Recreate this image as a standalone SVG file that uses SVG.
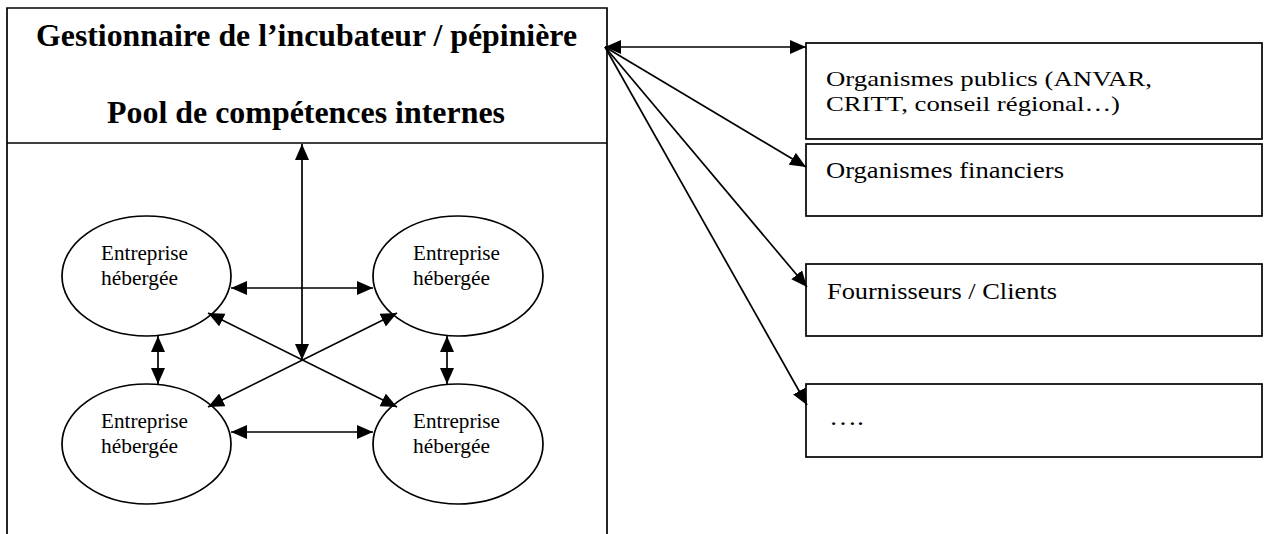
<svg xmlns="http://www.w3.org/2000/svg" width="1267" height="534" viewBox="0 0 1267 534">
<style>
.box{fill:none;stroke:#000;stroke-width:1.7}
.ell{fill:#fff;stroke:#000;stroke-width:1.7}
.con{fill:none;stroke:#000;stroke-width:1.7}
.title{font-family:"Liberation Serif","Times New Roman",serif;font-weight:bold;font-size:31px;fill:#000}
.lbl{font-family:"Liberation Serif","Times New Roman",serif;font-size:21px;fill:#000}
.org{font-family:"Liberation Serif","Times New Roman",serif;font-size:24px;fill:#000}
.org2{font-family:"Liberation Serif","Times New Roman",serif;font-size:22px;fill:#000}
</style>
<defs>
<marker id="ah" markerUnits="userSpaceOnUse" markerWidth="18" markerHeight="16" refX="16" refY="7" orient="auto-start-reverse" viewBox="0 0 18 16">
<path d="M0,0 L16,7 L0,14 z" fill="#000"/>
</marker>
</defs>
<rect width="1267" height="534" fill="#fff"/>
<g id="incubateur">
<path class="box" d="M7,534 V8 H607 V534"/>
<line class="box" x1="7" y1="143" x2="607" y2="143"/>
<text class="title" x="306.5" y="46" text-anchor="middle" textLength="541" lengthAdjust="spacingAndGlyphs">Gestionnaire de l’incubateur / pépinière</text>
<text class="title" x="306" y="123" text-anchor="middle" textLength="398" lengthAdjust="spacingAndGlyphs">Pool de compétences internes</text>
</g>
<g id="entreprise-hg">
<ellipse class="ell" cx="146.5" cy="276" rx="84.5" ry="60"/>
<text class="lbl" x="101" y="260" textLength="87" lengthAdjust="spacingAndGlyphs">Entreprise</text>
<text class="lbl" x="101" y="285" textLength="77" lengthAdjust="spacingAndGlyphs">hébergée</text>
</g>
<g id="entreprise-hd">
<ellipse class="ell" cx="458" cy="276" rx="85" ry="60"/>
<text class="lbl" x="413" y="260" textLength="87" lengthAdjust="spacingAndGlyphs">Entreprise</text>
<text class="lbl" x="413" y="285" textLength="77" lengthAdjust="spacingAndGlyphs">hébergée</text>
</g>
<g id="entreprise-bg">
<ellipse class="ell" cx="146.5" cy="444" rx="84.5" ry="60"/>
<text class="lbl" x="101" y="428" textLength="87" lengthAdjust="spacingAndGlyphs">Entreprise</text>
<text class="lbl" x="101" y="453" textLength="77" lengthAdjust="spacingAndGlyphs">hébergée</text>
</g>
<g id="entreprise-bd">
<ellipse class="ell" cx="458" cy="444" rx="85" ry="60"/>
<text class="lbl" x="413" y="428" textLength="87" lengthAdjust="spacingAndGlyphs">Entreprise</text>
<text class="lbl" x="413" y="453" textLength="77" lengthAdjust="spacingAndGlyphs">hébergée</text>
</g>
<g id="org-publics">
<rect class="box" x="806" y="43" width="456" height="96"/>
<text class="org2" x="826" y="86" textLength="326" lengthAdjust="spacingAndGlyphs">Organismes publics (ANVAR,</text>
<text class="org2" x="826" y="111" textLength="294" lengthAdjust="spacingAndGlyphs">CRITT, conseil régional…)</text>
</g>
<g id="org-financiers">
<rect class="box" x="806" y="144" width="456" height="72"/>
<text class="org" x="826" y="178" textLength="238" lengthAdjust="spacingAndGlyphs">Organismes financiers</text>
</g>
<g id="fournisseurs">
<rect class="box" x="806" y="264" width="456" height="72"/>
<text class="org" x="827" y="299" textLength="230" lengthAdjust="spacingAndGlyphs">Fournisseurs / Clients</text>
</g>
<g id="autres">
<rect class="box" x="806" y="384" width="456" height="73"/>
<text class="org" x="829" y="425" textLength="35" lengthAdjust="spacingAndGlyphs">….</text>
</g>
<g id="connectors">
<line class="con" x1="302" y1="144" x2="302" y2="360" marker-start="url(#ah)" marker-end="url(#ah)"/>
<line class="con" x1="231" y1="288" x2="373" y2="288" marker-start="url(#ah)" marker-end="url(#ah)"/>
<line class="con" x1="231" y1="432" x2="373" y2="432" marker-start="url(#ah)" marker-end="url(#ah)"/>
<line class="con" x1="158" y1="336" x2="158" y2="384" marker-start="url(#ah)" marker-end="url(#ah)"/>
<line class="con" x1="447" y1="336" x2="447" y2="384" marker-start="url(#ah)" marker-end="url(#ah)"/>
<line class="con" x1="208" y1="313" x2="397" y2="407" marker-start="url(#ah)" marker-end="url(#ah)"/>
<line class="con" x1="397" y1="313" x2="208" y2="407" marker-start="url(#ah)" marker-end="url(#ah)"/>
<line class="con" x1="605" y1="47" x2="806" y2="47" marker-start="url(#ah)" marker-end="url(#ah)"/>
<line class="con" x1="605" y1="47" x2="806" y2="167" marker-end="url(#ah)"/>
<line class="con" x1="605" y1="47" x2="807" y2="287" marker-end="url(#ah)"/>
<line class="con" x1="605" y1="47" x2="807" y2="405" marker-end="url(#ah)"/>
</g>
</svg>
